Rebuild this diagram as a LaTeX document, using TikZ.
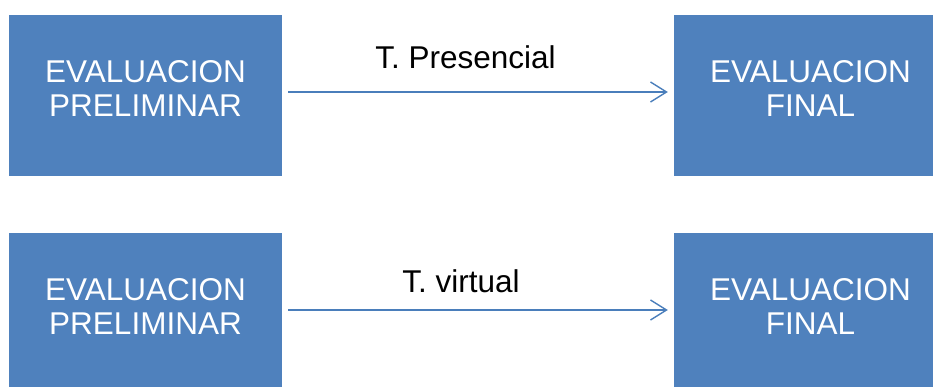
\documentclass[tikz,border=0pt]{standalone}
\usepackage{fontspec}
\setmainfont{Liberation Sans}
\usetikzlibrary{arrows.meta}
\definecolor{boxblue}{HTML}{4F81BD}
\definecolor{arrblue}{HTML}{4A7EBB}
\tikzset{
  evalbox/.style={fill=boxblue, draw=none, minimum width=273pt, minimum height=161pt,
    inner sep=0pt, align=center, text=white, text depth=14pt,
    font=\fontsize{31.5}{34}\selectfont},
  flowarrow/.style={draw=arrblue, line width=1.4pt,
    -{Straight Barb[length=16pt,width=20pt,line width=1.4pt]},
    shorten <=6pt, shorten >=6pt},
  lbl/.style={anchor=base, inner sep=0pt, font=\fontsize{31.5}{34}\selectfont}
}
\begin{document}
\begin{tikzpicture}[x=1pt,y=-1pt]
\clip (0,0) rectangle (933,387);
\useasboundingbox (0,0) rectangle (933,387);
\node[evalbox] (pre1) at (145.5,95.5) {EVALUACION\\PRELIMINAR};
\node[evalbox] (fin1) at (810.5,95.5) {EVALUACION\\FINAL};
\node[evalbox] (pre2) at (145.5,313.5) {EVALUACION\\PRELIMINAR};
\node[evalbox] (fin2) at (810.5,313.5) {EVALUACION\\FINAL};
\draw[flowarrow] ([yshift=3.5pt]pre1.east) -- ([yshift=3.5pt]fin1.west);
\draw[flowarrow] ([yshift=3.5pt]pre2.east) -- ([yshift=3.5pt]fin2.west);
\node[lbl] (l1) at (465.5,69) {T. Presencial};
\node[lbl] (l2) at (461,292) {T. virtual};
\end{tikzpicture}
\end{document}
